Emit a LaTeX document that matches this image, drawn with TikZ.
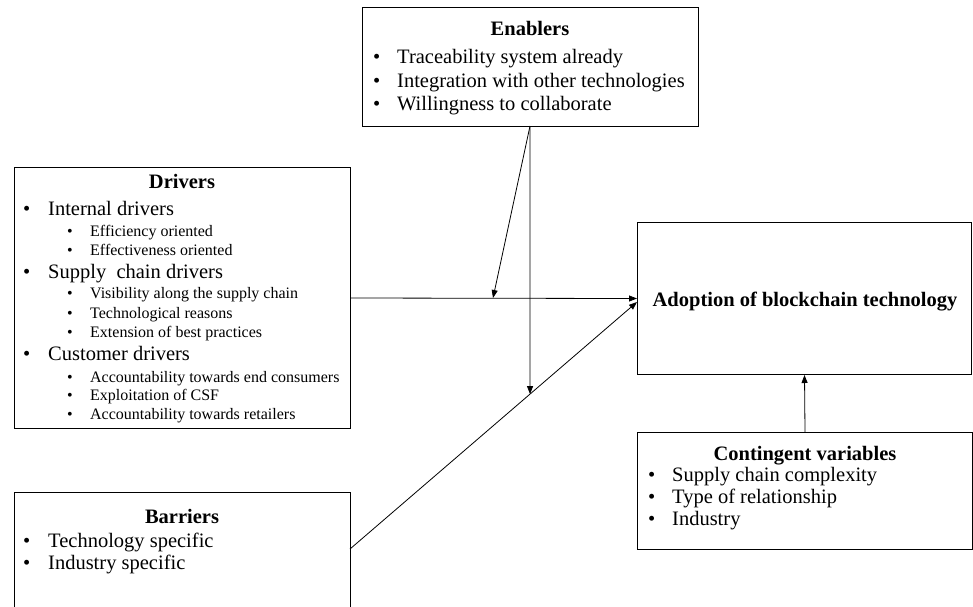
\documentclass[tikz,border=0pt]{standalone}
\usepackage{fontspec}
\setmainfont{Liberation Serif}
\usetikzlibrary{arrows.meta}
\newcommand\bul[1][24pt]{\makebox[#1][l]{•}}
\begin{document}
\begin{tikzpicture}[x=1pt,y=-1pt,
 box/.style={draw,line width=1pt,inner sep=0,anchor=north west},
 arr/.style={line width=0.8pt,-{Triangle[length=8pt,width=6pt]}},
 head/.style={font=\fontsize{20.5}{24}\selectfont\bfseries,anchor=base,inner sep=0},
 item/.style={font=\fontsize{20.5}{24}\selectfont,anchor=base west,inner sep=0},
 subitem/.style={font=\fontsize{16}{19}\selectfont,anchor=base west,inner sep=0},
]
\useasboundingbox (0,0) rectangle (973,606);
\clip (0,0) rectangle (973,606);
% boxes
\node[box,minimum width=336pt,minimum height=119pt] (en) at (362,7) {};
\node[box,minimum width=336pt,minimum height=261pt] (dr) at (14,167) {};
\node[box,minimum width=336pt,minimum height=140pt] (ba) at (14,492) {};
\node[box,minimum width=334pt,minimum height=152pt] (ad) at (637,222) {};
\node[box,minimum width=335pt,minimum height=117pt] (cv) at (637,432) {};
% Enablers text
\node[head] (enh) at (530,35) {Enablers};
\node[item] (en1) at (373,63) {\bul Traceability system already};
\node[item] (en2) at (373,87) {\bul Integration with other technologies};
\node[item] (en3) at (373,110) {\bul Willingness to collaborate};
% Drivers text
\node[head] (drh) at (182,188) {Drivers};
\node[item] (dr1) at (23,215) {\bul[25pt]Internal drivers};
\node[subitem] (dr1a) at (67,236) {\bul[23pt]Efficiency oriented};
\node[subitem] (dr1b) at (67,255) {\bul[23pt]Effectiveness oriented};
\node[item] (dr2) at (23,278) {\bul[25pt]Supply\ \ chain drivers};
\node[subitem] (dr2a) at (67,298) {\bul[23pt]Visibility along the supply chain};
\node[subitem] (dr2b) at (67,318) {\bul[23pt]Technological reasons};
\node[subitem] (dr2c) at (67,337) {\bul[23pt]Extension of best practices};
\node[item] (dr3) at (23,360) {\bul[25pt]Customer drivers};
\node[subitem] (dr3a) at (67,382) {\bul[23pt]Accountability towards end consumers};
\node[subitem] (dr3b) at (67,400) {\bul[23pt]Exploitation of CSF};
\node[subitem] (dr3c) at (67,419) {\bul[23pt]Accountability towards retailers};
% Barriers text
\node[head] (bah) at (182,523) {Barriers};
\node[item] (ba1) at (23,547) {\bul[25pt]Technology specific};
\node[item] (ba2) at (23,569) {\bul[25pt]Industry specific};
% Adoption
\node[head] (adt) at (805,306) {Adoption of blockchain technology};
% Contingent variables
\node[head] (cvh) at (805,460) {Contingent variables};
\node[item] (cv1) at (648,481) {\bul Supply chain complexity};
\node[item] (cv2) at (648,503) {\bul Type of relationship};
\node[item] (cv3) at (648,525) {\bul Industry};
% connectors
\coordinate (bs) at (350,549);
\coordinate (bt) at (637,302);
\coordinate (es) at (530,126);
\coordinate (ed) at (493,298);
\coordinate (ev) at (intersection of bs--bt and es--530,600);
\draw[arr] (dr.east) -- (ad.west);
\draw[arr] (bs) -- (bt);
\draw[arr] (es) -- (ev);
\draw[arr] (es) -- (ed);
\draw[arr] (cv.north) -- (ad.south);
\end{tikzpicture}
\end{document}
